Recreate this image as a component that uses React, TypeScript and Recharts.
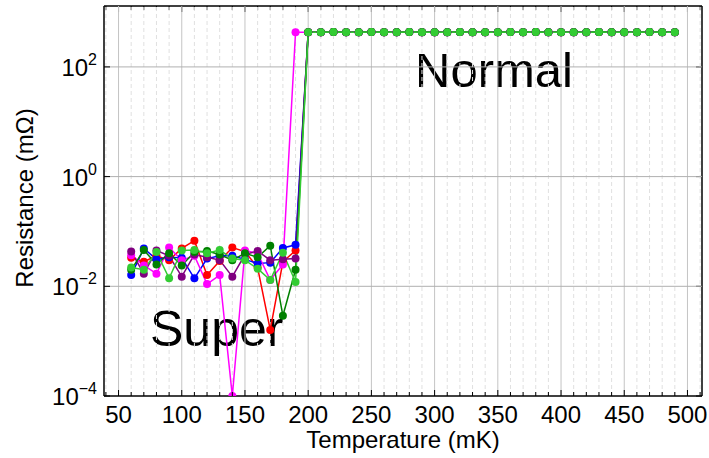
import { Customized, Line, LineChart, ReferenceLine, XAxis, YAxis } from "recharts";

// temperatures (mK) at which every sample was taken
const TEMPS = [
  60, 70, 80, 90, 100, 110, 120, 130, 140, 150, 160, 170, 180, 190, 200, 210, 220, 230, 240, 250, 260, 270,
  280, 290, 300, 310, 320, 330, 340, 350, 360, 370, 380, 390, 400, 410, 420, 430, 440, 450, 460, 470, 480, 490,
];

// superconducting part, 60..190 mK (resistance in mOhm)
const RED_LOW = [0.033, 0.028, 0.036, 0.03, 0.049, 0.068, 0.016, 0.029, 0.051, 0.043, 0.022, 0.0016, 0.028, 0.045];
const BLUE_LOW = [0.016, 0.049, 0.031, 0.034, 0.033, 0.014, 0.032, 0.036, 0.036, 0.031, 0.026, 0.027, 0.05, 0.057];
const MAGENTA_LOW = [0.037, 0.024, 0.017, 0.051, 0.03, 0.036, 0.011, 0.016, 0.0001, 0.045, 0.04, 0.013, 0.025, 430];
const PURPLE_LOW = [0.043, 0.017, 0.045, 0.036, 0.015, 0.038, 0.034, 0.03, 0.015, 0.038, 0.044, 0.03, 0.031, 0.032];
const DKGREEN_LOW = [0.02, 0.046, 0.025, 0.04, 0.024, 0.042, 0.044, 0.038, 0.03, 0.04, 0.034, 0.055, 0.0029, 0.02];
const LIME_LOW = [0.022, 0.02, 0.042, 0.014, 0.045, 0.046, 0.04, 0.046, 0.032, 0.03, 0.021, 0.013, 0.041, 0.012];

// normal state, 200..490 mK
const PLATEAU = [
  428, 430, 431, 429, 430, 432, 430, 429, 431, 430, 428, 430, 431, 430, 429,
  430, 432, 430, 431, 429, 430, 430, 428, 431, 430, 429, 430, 431, 430, 430,
];

const SERIES = [
  { key: "red", color: "#ff0000", low: RED_LOW },
  { key: "blue", color: "#0000ff", low: BLUE_LOW },
  { key: "magenta", color: "#ff00ff", low: MAGENTA_LOW },
  { key: "purple", color: "#800080", low: PURPLE_LOW },
  { key: "dkgreen", color: "#008000", low: DKGREEN_LOW },
  { key: "lime", color: "#33cc33", low: LIME_LOW },
];

const X_TICKS = [40, 50, 60, 70, 80, 90, 100, 110, 120, 130, 140, 150, 160, 170, 180, 190, 200, 210, 220, 230, 240,
  250, 260, 270, 280, 290, 300, 310, 320, 330, 340, 350, 360, 370, 380, 390, 400, 410, 420, 430, 440, 450, 460,
  470, 480, 490, 500, 510];
const Y_TICKS = [1e-4, 1e-2, 1, 100];

const X_MIN = 38.5;
const X_MAX = 511.5;
const Y_MIN = 1e-4;
const Y_MAX = 1290;

// plot box in pixels (margin + axis sizes below)
const BOX = { left: 104, top: 6, width: 598, height: 390 };

const FONT = '"Liberation Sans", Arial, Helvetica, sans-serif';

const data = TEMPS.map((t, i) => {
  const row: Record<string, number> = { t };
  SERIES.forEach((s) => {
    row[s.key] = i < s.low.length ? s.low[i] : PLATEAU[i - s.low.length];
  });
  return row;
});

const BottomTick = (props: any) => {
  const { x, y, payload } = props;
  const major = payload.value % 50 === 0;
  return (
    <g>
      <line x1={x} x2={x} y1={y} y2={y - (major ? 6 : 4)} stroke="#000" strokeWidth={1} />
      {major && (
        <text x={x} y={y + 27} textAnchor="middle" fontSize={24} fontFamily={FONT} fill="#000">
          {payload.value}
        </text>
      )}
    </g>
  );
};

const LeftTick = (props: any) => {
  const { x, y, payload } = props;
  const exp = Math.round(Math.log10(payload.value));
  return (
    <g>
      <line x1={x} x2={x + 6} y1={y} y2={y} stroke="#000" strokeWidth={1} />
      <text x={x - 7} y={y + 9} textAnchor="end" fontSize={24} fontFamily={FONT} fill="#000">
        10
        <tspan dy={-11} fontSize={16}>
          {exp < 0 ? `\u2212${-exp}` : exp}
        </tspan>
      </text>
    </g>
  );
};

// top and right edges of the box with their inward ticks
const Frame = () => {
  const right = BOX.left + BOX.width;
  const px = (v: number) => BOX.left + ((v - X_MIN) / (X_MAX - X_MIN)) * BOX.width;
  const py = (v: number) =>
    BOX.top + ((Math.log10(Y_MAX) - Math.log10(v)) / (Math.log10(Y_MAX) - Math.log10(Y_MIN))) * BOX.height;
  return (
    <g stroke="#000">
      <line x1={BOX.left} x2={right} y1={BOX.top} y2={BOX.top} strokeWidth={1.5} />
      <line x1={right} x2={right} y1={BOX.top} y2={BOX.top + BOX.height} strokeWidth={1.5} />
      {X_TICKS.map((v) => (
        <line key={v} x1={px(v)} x2={px(v)} y1={BOX.top} y2={BOX.top + (v % 50 === 0 ? 6 : 4)} strokeWidth={1} />
      ))}
      {Y_TICKS.map((v) => (
        <line key={v} x1={right} x2={right - 6} y1={py(v)} y2={py(v)} strokeWidth={1} />
      ))}
    </g>
  );
};

const Annotations = () => (
  <g fontFamily={FONT} fill="#000">
    <text x={415} y={87} fontSize={49}>Normal</text>
    <text x={150} y={346} fontSize={50}>Super</text>
    <text x={403} y={448} fontSize={24} textAnchor="middle">Temperature (mK)</text>
    <text x={33} y={198} fontSize={24} textAnchor="middle" transform="rotate(-90 33 198)">
      Resistance (m{"\u03a9"})
    </text>
  </g>
);

export default function App() {
  return (
    <div style={{ position: "absolute", left: 0, top: 0, background: "#fff" }}>
      <LineChart width={709} height={458} data={data} margin={{ top: 6, right: 7, bottom: 0, left: 0 }}>
        <XAxis
          dataKey="t"
          type="number"
          domain={[X_MIN, X_MAX]}
          ticks={X_TICKS}
          interval={0}
          allowDataOverflow
          height={62}
          tickLine={false}
          tickSize={0}
          tickMargin={0}
          tick={<BottomTick />}
          axisLine={{ stroke: "#000", strokeWidth: 1.5 }}
        />
        <YAxis
          type="number"
          scale="log"
          domain={[Y_MIN, Y_MAX]}
          ticks={Y_TICKS}
          interval={0}
          allowDataOverflow
          width={104}
          tickLine={false}
          tickSize={0}
          tickMargin={0}
          tick={<LeftTick />}
          axisLine={{ stroke: "#000", strokeWidth: 1.5 }}
        />
        {X_TICKS.map((v) => (
          <ReferenceLine
            key={`gx${v}`}
            x={v}
            stroke={v % 50 === 0 ? "#c4c4c4" : "#e0e0e0"}
            strokeDasharray={v % 50 === 0 ? undefined : "4 3"}
            strokeWidth={1}
          />
        ))}
        {[1e-2, 1, 100].map((v) => (
          <ReferenceLine key={`gy${v}`} y={v} stroke="#b0b0b0" strokeWidth={1} />
        ))}
        {SERIES.map((s) => (
          <Line
            key={s.key}
            dataKey={s.key}
            stroke={s.color}
            strokeWidth={1.5}
            dot={{ r: 4, fill: s.color, stroke: s.color, strokeWidth: 0 }}
            isAnimationActive={false}
          />
        ))}
        <Customized component={Frame} />
        <Customized component={Annotations} />
      </LineChart>
    </div>
  );
}
